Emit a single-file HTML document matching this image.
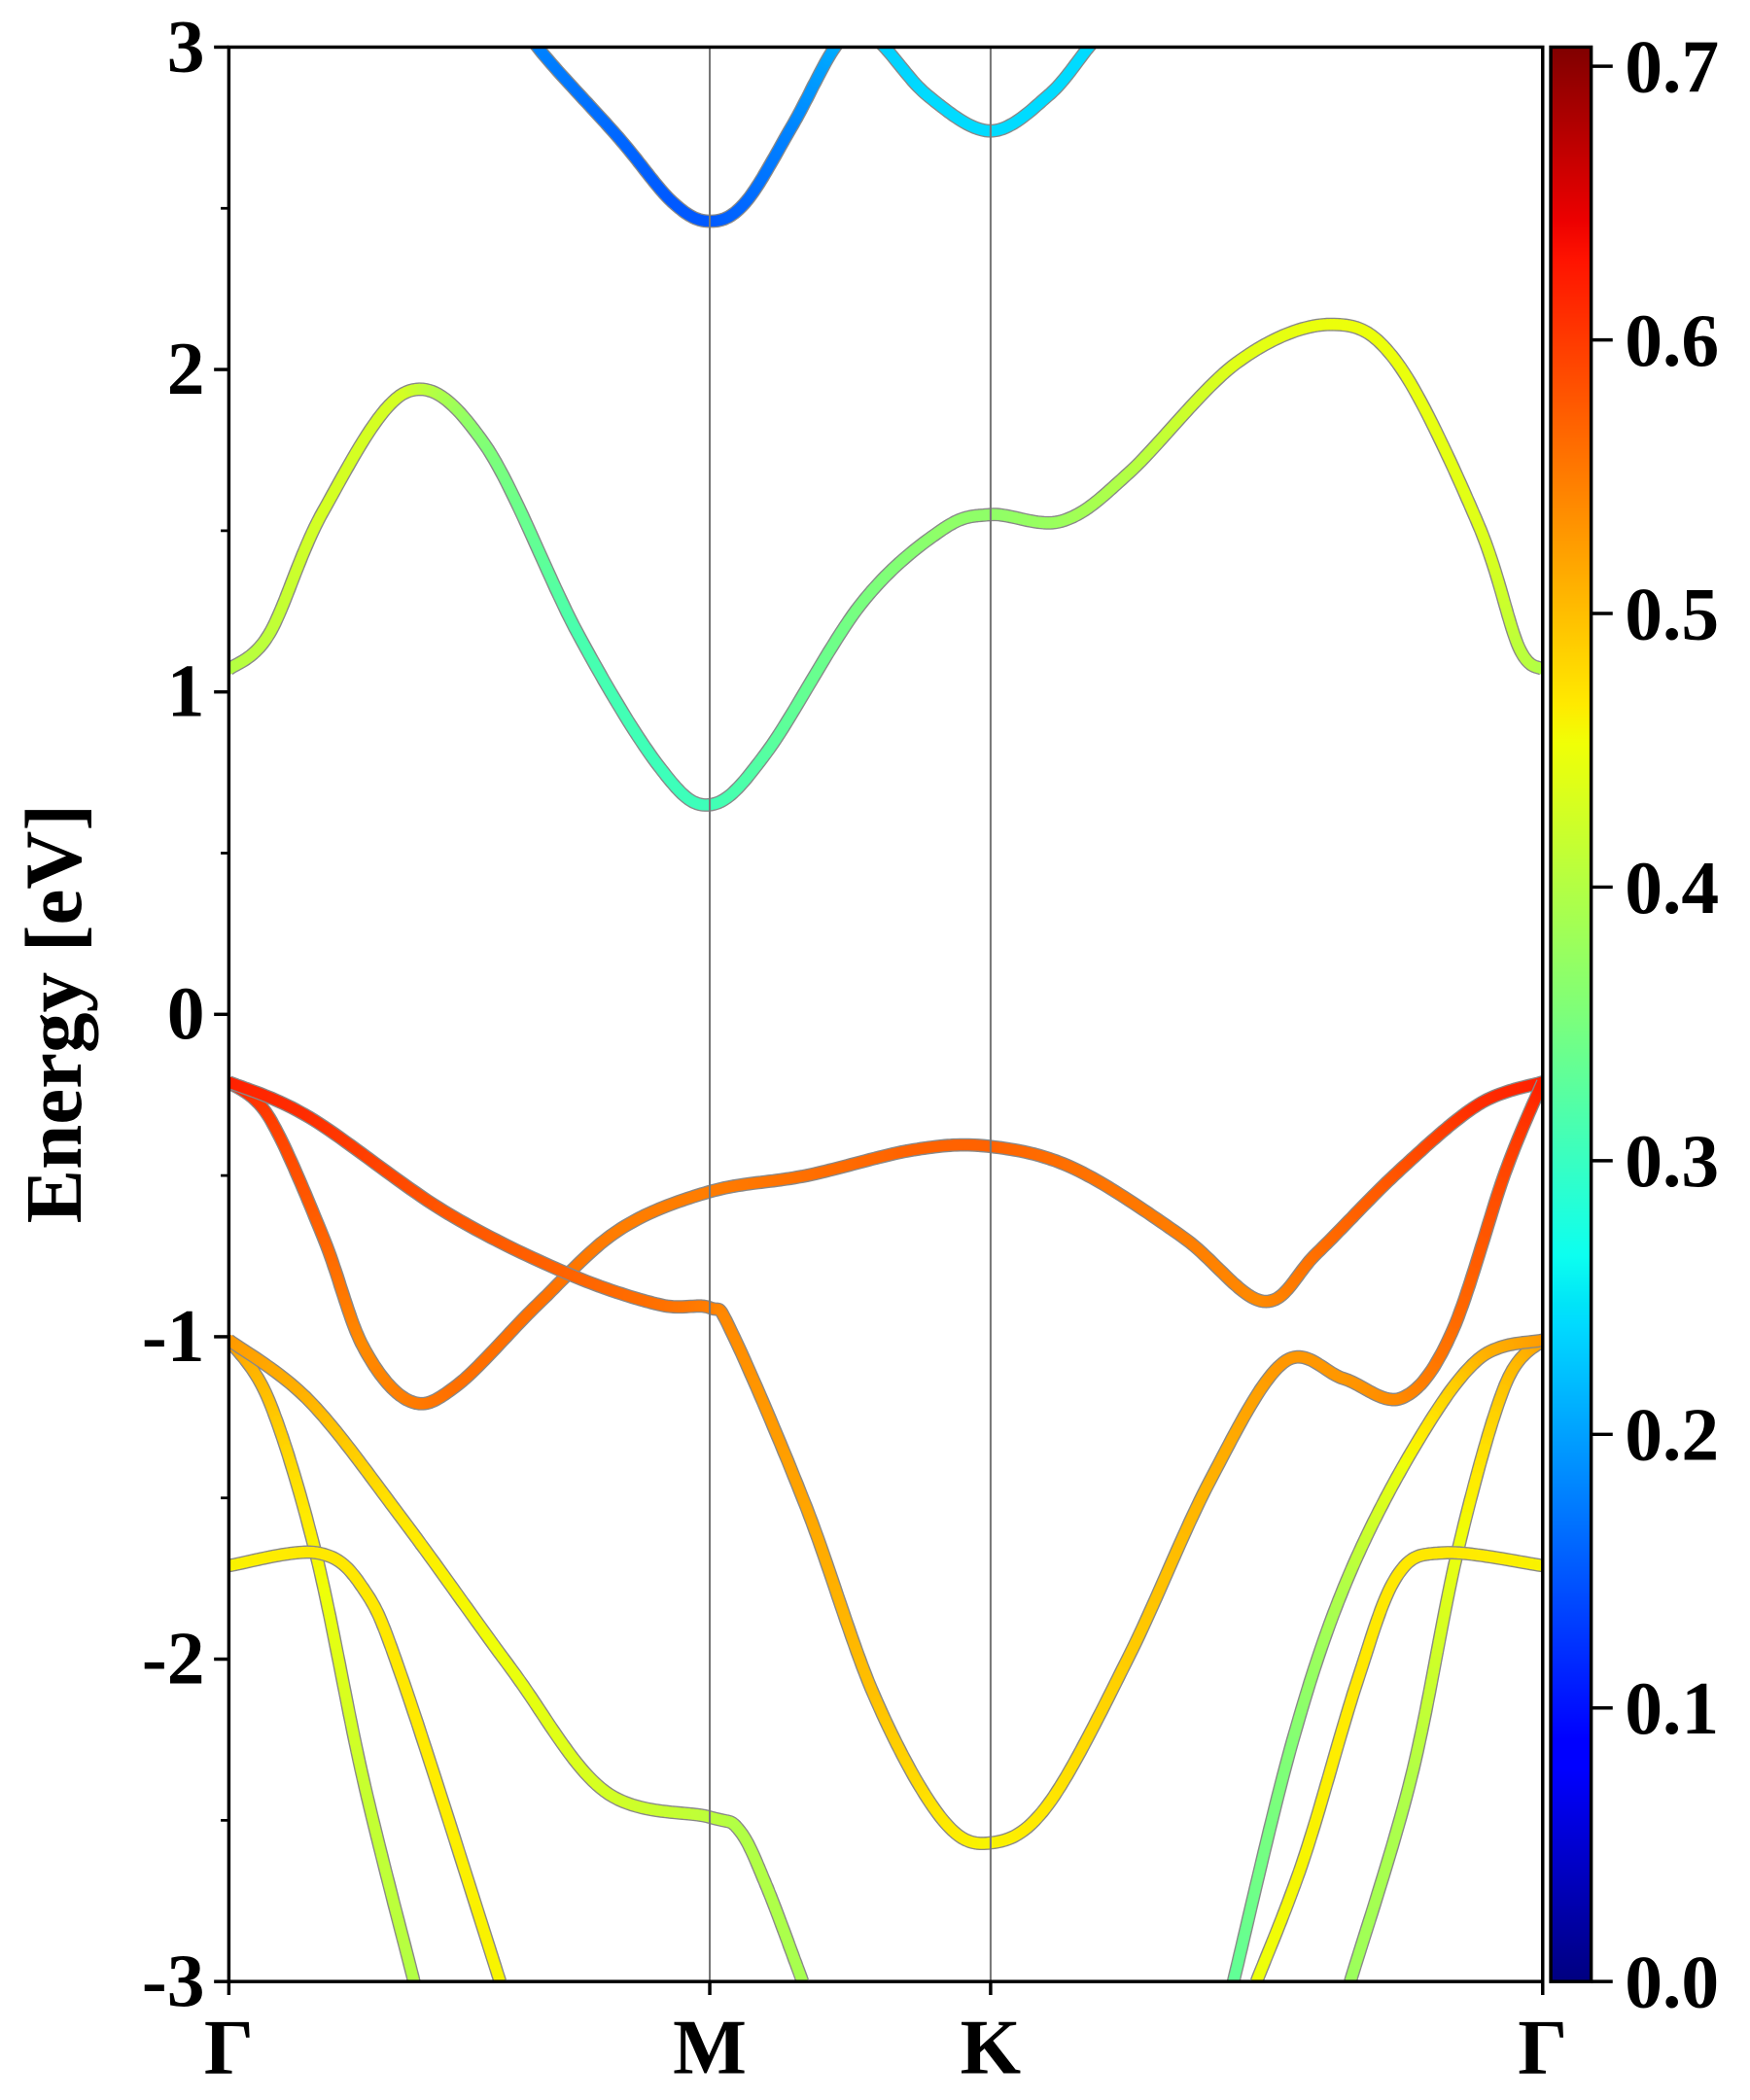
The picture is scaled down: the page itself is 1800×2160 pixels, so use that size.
<!DOCTYPE html>
<html><head><meta charset="utf-8">
<style>
html,body{margin:0;padding:0;background:#fff;}
svg{display:block;}
text{font-family:"Liberation Serif","Times New Roman",serif;font-weight:700;fill:#000;}
</style></head>
<body>
<svg id="chart" width="1800" height="2160" viewBox="0 0 1300 1560" xmlns="http://www.w3.org/2000/svg" font-family="Liberation Serif, serif" font-weight="bold">
<defs>
<clipPath id="plotclip"><rect x="170" y="35" width="976" height="1437"/></clipPath>
<linearGradient id="jetgrad" x1="0" y1="1" x2="0" y2="0">
<stop offset="0" stop-color="#000080"/>
<stop offset="0.11" stop-color="#0000ff"/>
<stop offset="0.125" stop-color="#0000ff"/>
<stop offset="0.34" stop-color="#00dbff"/>
<stop offset="0.35" stop-color="#00e4f8"/>
<stop offset="0.375" stop-color="#0cfff0"/>
<stop offset="0.5" stop-color="#7dff7a"/>
<stop offset="0.64" stop-color="#f0ff06"/>
<stop offset="0.66" stop-color="#ffea00"/>
<stop offset="0.89" stop-color="#ff1300"/>
<stop offset="0.91" stop-color="#ed0000"/>
<stop offset="1" stop-color="#800000"/>
</linearGradient>
</defs>
<g id="bands" clip-path="url(#plotclip)"></g>
<g id="axes"></g>
</svg>
<script>
// k-path positions (Γ=0, M=1, K=1.584, Γ=2.732), energies in eV, weights
const band1K = [0.587,0.642,0.810,0.922,1,1.075,1.173,1.271,1.341,1.453,1.584,1.704,1.788,1.844];
const band1E = [3.15,3.0,2.72,2.52,2.46,2.52,2.76,3.02,3.03,2.85,2.74,2.85,3.0,3.1];
const band1W = [0.19,0.18,0.16,0.15,0.15,0.16,0.18,0.21,0.23,0.24,0.24,0.24,0.24,0.24];

const band2K = [0,0.084,0.196,0.369,0.531,0.726,0.894,1,1.117,1.313,1.480,1.584,1.732,1.872,2.095,2.291,2.430,2.598,2.682,2.732];
const band2E = [1.07,1.18,1.56,1.93,1.77,1.18,0.77,0.65,0.81,1.27,1.50,1.55,1.53,1.68,2.02,2.14,2.02,1.52,1.14,1.07];
const band2W = [0.40,0.41,0.43,0.43,0.36,0.31,0.30,0.30,0.32,0.35,0.37,0.37,0.38,0.40,0.44,0.45,0.45,0.44,0.41,0.40];

const band3K = [0,0.084,0.196,0.279,0.377,0.475,0.642,0.810,1,1.201,1.425,1.584,1.760,1.983,2.151,2.263,2.430,2.598,2.732];
const band3E = [-0.21,-0.32,-0.69,-1.03,-1.20,-1.15,-0.90,-0.67,-0.55,-0.50,-0.42,-0.41,-0.48,-0.69,-0.89,-0.74,-0.49,-0.28,-0.21];
const band3W = [0.62,0.60,0.57,0.54,0.55,0.56,0.56,0.55,0.55,0.56,0.57,0.57,0.56,0.55,0.54,0.56,0.58,0.61,0.62];

const band4K = [0,0.168,0.447,0.698,0.894,1,1.047,1.201,1.341,1.480,1.584,1.704,1.872,2.039,2.193,2.318,2.439,2.542,2.654,2.732];
const band4E = [-0.21,-0.32,-0.61,-0.80,-0.90,-0.91,-0.99,-1.53,-2.11,-2.49,-2.57,-2.45,-1.99,-1.45,-1.08,-1.13,-1.19,-0.99,-0.49,-0.21];
const band4W = [0.62,0.61,0.58,0.57,0.56,0.55,0.54,0.52,0.50,0.47,0.46,0.47,0.49,0.51,0.53,0.53,0.54,0.56,0.59,0.62];

const band5K = [0,0.084,0.182,0.279,0.385];
const band5E = [-1.01,-1.20,-1.68,-2.37,-3.0];
const band5W = [0.53,0.50,0.46,0.42,0.40];

const band6K = [0,0.182,0.279,0.363,0.564];
const band6E = [-1.71,-1.67,-1.78,-2.07,-3.0];
const band6W = [0.46,0.47,0.47,0.47,0.46];

const band7K = [0,0.168,0.363,0.587,0.782,1,1.061,1.117,1.193];
const band7E = [-1.01,-1.20,-1.57,-2.03,-2.41,-2.49,-2.53,-2.70,-3.0];
const band7W = [0.53,0.51,0.47,0.45,0.43,0.41,0.40,0.40,0.39];

const band8K = [2.732,2.654,2.556,2.458,2.332];
const band8E = [-1.01,-1.15,-1.66,-2.37,-3.0];
const band8W = [0.53,0.50,0.45,0.40,0.38];

const band9K = [2.732,2.598,2.458,2.318,2.207,2.089];
const band9E = [-1.01,-1.07,-1.36,-1.78,-2.28,-3.0];
const band9W = [0.53,0.51,0.46,0.40,0.36,0.33];

const band10K = [2.732,2.528,2.430,2.346,2.235,2.137];
const band10E = [-1.71,-1.67,-1.74,-2.07,-2.62,-3.0];
const band10W = [0.46,0.47,0.47,0.47,0.46,0.45];

const yTicks = [3,2,1,0,-1,-2,-3];
const yTickLabels = ["3","2","1","0","-1","-2","-3"];
const kLabelPos = [0,1,1.584,2.732];
const kLabels = ["Γ","M","K","Γ"];
const cbTicks = [0,0.1,0.2,0.3,0.4,0.5,0.6,0.7];
const cbTickLabels = ["0.0","0.1","0.2","0.3","0.4","0.5","0.6","0.7"];
const cbMax = 0.707;

const NS = "http://www.w3.org/2000/svg";
const X0 = 170, X1 = 1146, Y0 = 35, Y1 = 1472;
const kMax = 2.732;
function xs(k){ return X0 + k/kMax*(X1-X0); }
function ys(e){ return Y1 - (e+3)/6*(Y1-Y0); }
function cbY(v){ return Y1 - v/cbMax*(Y1-Y0); }

function interp(t, xsA, vsA){
  if (t<=xsA[0]) return vsA[0];
  for (let i=1;i<xsA.length;i++){
    if (t<=xsA[i]) return vsA[i-1]+(vsA[i]-vsA[i-1])*(t-xsA[i-1])/(xsA[i]-xsA[i-1]);
  }
  return vsA[vsA.length-1];
}
function jet(v){
  const t = Math.max(0,Math.min(1,v/cbMax));
  const r = interp(t,[0,0.35,0.66,0.89,1],[0,0,1,1,0.5]);
  const g = interp(t,[0,0.125,0.375,0.64,0.91,1],[0,0,1,1,0,0]);
  const b = interp(t,[0,0.11,0.34,0.65,1],[0.5,1,1,0,0]);
  return "rgb("+Math.round(r*255)+","+Math.round(g*255)+","+Math.round(b*255)+")";
}
function el(tag, attrs, parent){
  const e = document.createElementNS(NS, tag);
  for (const a in attrs) e.setAttribute(a, attrs[a]);
  parent.appendChild(e);
  return e;
}
function sample(K,E,W){
  const P = K.map((k,i)=>[xs(k),ys(E[i])]);
  const out = [];
  const n = P.length;
  for (let i=0;i<n-1;i++){
    const p0 = P[Math.max(0,i-1)], p1 = P[i], p2 = P[i+1], p3 = P[Math.min(n-1,i+2)];
    const steps = 24;
    for (let s=0;s<steps;s++){
      const t = s/steps, t2=t*t, t3=t2*t;
      const x = 0.5*((2*p1[0])+(-p0[0]+p2[0])*t+(2*p0[0]-5*p1[0]+4*p2[0]-p3[0])*t2+(-p0[0]+3*p1[0]-3*p2[0]+p3[0])*t3);
      const y = 0.5*((2*p1[1])+(-p0[1]+p2[1])*t+(2*p0[1]-5*p1[1]+4*p2[1]-p3[1])*t2+(-p0[1]+3*p1[1]-3*p2[1]+p3[1])*t3);
      out.push([x,y,W[i]+(W[i+1]-W[i])*t]);
    }
  }
  out.push([P[n-1][0],P[n-1][1],W[n-1]]);
  return out;
}
const bandsG = document.getElementById('bands');
const allBands = [[band1K,band1E,band1W],[band2K,band2E,band2W],[band3K,band3E,band3W],[band4K,band4E,band4W],[band5K,band5E,band5W],[band6K,band6E,band6W],[band7K,band7E,band7W],[band8K,band8E,band8W],[band9K,band9E,band9W],[band10K,band10E,band10W]];
allBands.forEach((b,bi)=>{
  const pts = sample(b[0],b[1],b[2]);
  const g = el('g',{},bandsG);
  
  
  const d = pts.map((p,i)=>(i?'L':'M')+p[0].toFixed(1)+' '+p[1].toFixed(1)).join('');
  el('path',{d:d,fill:'none',stroke:'#888','stroke-width':10,'stroke-linejoin':'round','stroke-linecap':'butt'},g);
  for (let i=0;i<pts.length-1;i++){
    el('line',{x1:pts[i][0],y1:pts[i][1],x2:pts[i+1][0],y2:pts[i+1][1],stroke:jet((pts[i][2]+pts[i+1][2])/2),'stroke-width':8,'stroke-linecap':'round'},g);
  }
});

const ax = document.getElementById('axes');
kLabelPos.slice(1,3).forEach(k=>{
  const l = el('line',{x1:xs(k),y1:Y0,x2:xs(k),y2:Y1,stroke:'#777','stroke-width':1.5},ax);
  
  
});
const frame = el('rect',{x:X0,y:Y0,width:X1-X0,height:Y1-Y0,fill:'none',stroke:'#000','stroke-width':2.5},ax);


const FONT = '"Liberation Serif", serif';
yTicks.forEach((v,i)=>{
  el('line',{x1:X0-11,y1:ys(v),x2:X0,y2:ys(v),stroke:'#000','stroke-width':2.5},ax);
  if (i<yTicks.length-1) el('line',{x1:X0-6,y1:ys(v-0.5),x2:X0,y2:ys(v-0.5),stroke:'#000','stroke-width':2},ax);
  const t = el('text',{x:X0-18,y:ys(v)+18,'text-anchor':'end','font-size':56,'font-family':FONT,'font-weight':'bold'},ax);
  t.textContent = yTickLabels[i];
  
  
});
kLabelPos.forEach((k,i)=>{
  el('line',{x1:xs(k),y1:Y1,x2:xs(k),y2:Y1+10,stroke:'#000','stroke-width':2.5},ax);
  const t = el('text',{x:xs(k),y:Y1+68,'text-anchor':'middle','font-size':58,'font-family':FONT,'font-weight':'bold'},ax);
  t.textContent = kLabels[i];
  
  
});
const yt = el('text',{x:0,y:0,'text-anchor':'middle','font-size':60,'font-family':FONT,'font-weight':'bold',transform:'translate(60,753) rotate(-90)'},ax);
yt.textContent = 'Energy [eV]';


const cb = el('rect',{x:1152,y:Y0,width:30,height:Y1-Y0,fill:'url(#jetgrad)',stroke:'#000','stroke-width':2.5},ax);


cbTicks.forEach((v,i)=>{
  el('line',{x1:1182,y1:cbY(v),x2:1198,y2:cbY(v),stroke:'#000','stroke-width':2.5},ax);
  const t = el('text',{x:1207,y:cbY(v)+19,'font-size':56,'font-family':FONT,'font-weight':'bold'},ax);
  t.textContent = cbTickLabels[i];
  
  
});
</script>
</body></html>
